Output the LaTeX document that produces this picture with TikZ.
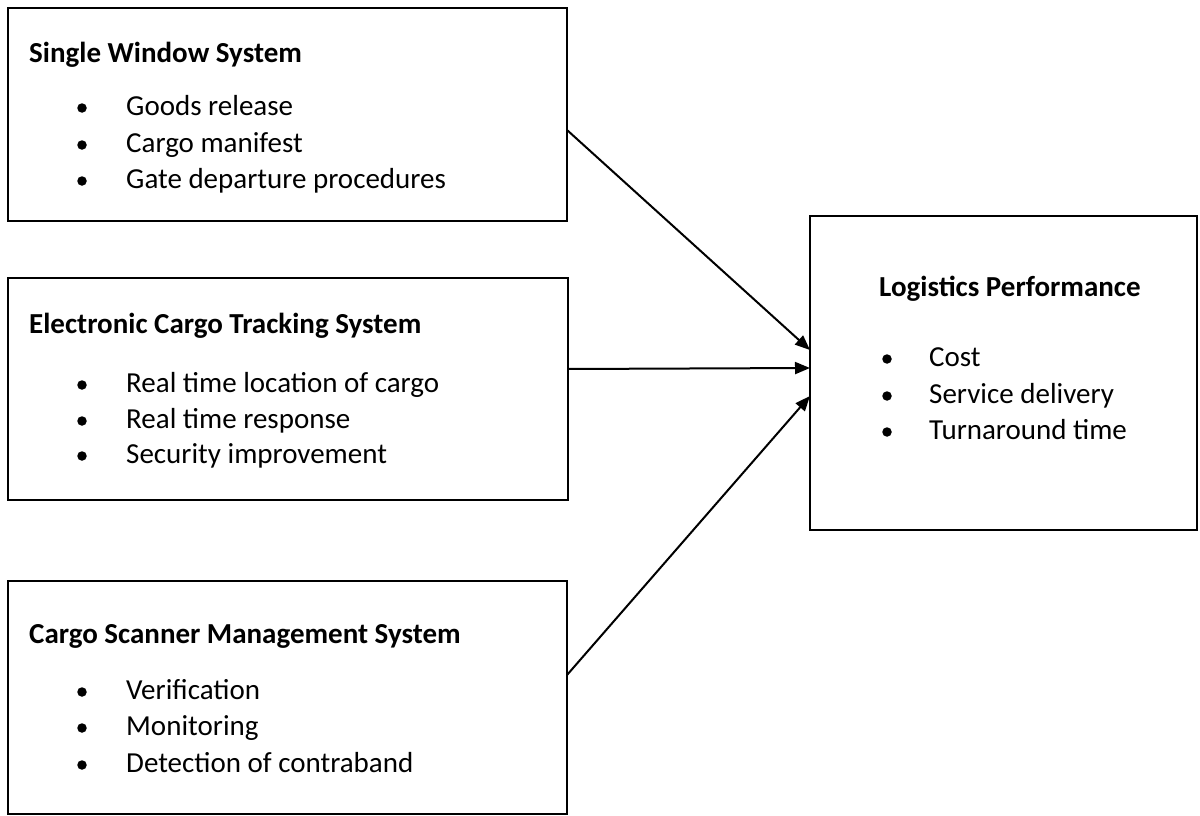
\documentclass[tikz,border=0pt]{standalone}
\usepackage{fontspec}
\setmainfont{Carlito}
\usetikzlibrary{arrows.meta}
\begin{document}
\begin{tikzpicture}[x=1pt,y=-1pt,
  box/.style={draw=black, line width=2.4pt, rectangle, inner sep=0pt, outer sep=0pt, anchor=north west},
  head/.style={anchor=base west, inner sep=0pt, font=\fontsize{29}{35}\selectfont\bfseries},
  item/.style={anchor=base west, inner sep=0pt, font=\fontsize{29}{35}\selectfont},
  dot/.style={circle, fill=black, draw=none, inner sep=0pt, minimum size=9.5pt},
  link/.style={line width=2pt, -{Triangle[length=15pt,width=12pt]}}]
\useasboundingbox (0,0) rectangle (1200,816);

% frames
\node[box, minimum width=559pt, minimum height=213pt] (b1) at (8,8) {};
\node[box, minimum width=560pt, minimum height=222pt] (b2) at (8,278) {};
\node[box, minimum width=559pt, minimum height=233pt] (b3) at (8,581) {};
\node[box, minimum width=387pt, minimum height=314pt] (b4) at (810,216) {};

% Single Window System
\node[head] (h1) at (29,63) {Single Window System};
\node[dot] (d11) at (82,108) {};
\node[item] (t11) at (126,115) {Goods release};
\node[dot] (d12) at (82,145) {};
\node[item] (t12) at (126,152) {Cargo manifest};
\node[dot] (d13) at (82,181) {};
\node[item] (t13) at (126,188) {Gate departure procedures};

% Electronic Cargo Tracking System
\node[head] (h2) at (29,333) {Electronic Cargo Tracking System};
\node[dot] (d21) at (82,385) {};
\node[item] (t21) at (126,392) {Real time location of cargo};
\node[dot] (d22) at (82,421) {};
\node[item] (t22) at (126,428) {Real time response};
\node[dot] (d23) at (82,456) {};
\node[item] (t23) at (126,463) {Security improvement};

% Cargo Scanner Management System
\node[head] (h3) at (29,643) {Cargo Scanner Management System};
\node[dot] (d31) at (82,692) {};
\node[item] (t31) at (126,699) {Verification};
\node[dot] (d32) at (82,728) {};
\node[item] (t32) at (126,735) {Monitoring};
\node[dot] (d33) at (82,765) {};
\node[item] (t33) at (126,772) {Detection of contraband};

% Logistics Performance
\node[head] (h4) at (879,296) {Logistics Performance};
\node[dot] (d41) at (887,359) {};
\node[item] (t41) at (929,366) {Cost};
\node[dot] (d42) at (887,396) {};
\node[item] (t42) at (929,403) {Service delivery};
\node[dot] (d43) at (887,432) {};
\node[item] (t43) at (929,439) {Turnaround time};

% influences
\draw[link] (b1.east |- 0,130) -- (b4.west |- 0,350);
\draw[link] (b2.east |- 0,369) -- (b4.west |- 0,368);
\draw[link] (b3.east |- 0,675) -- (b4.west |- 0,396);
\end{tikzpicture}
\end{document}
